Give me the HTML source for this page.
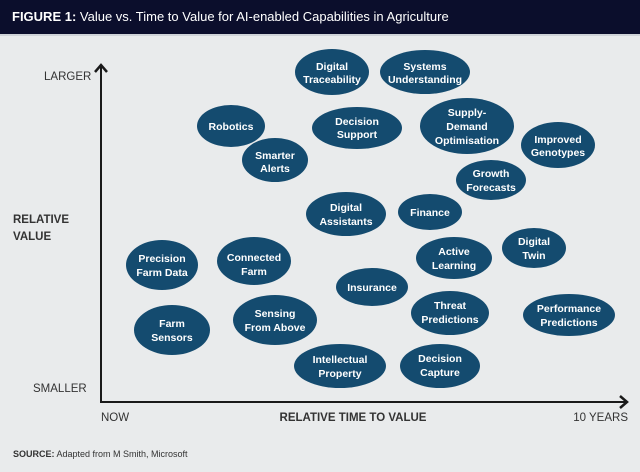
<!DOCTYPE html>
<html><head><meta charset="utf-8"><style>
body{margin:0;width:640px;height:472px;background:#e9ebec;overflow:hidden}
svg{display:block}
.e{fill:#144b6f}
.t{font-family:"Liberation Sans Narrow","Liberation Sans",sans-serif;font-weight:bold;font-size:10.5px;fill:#fff;text-anchor:middle}
.l{font-family:"Liberation Sans",sans-serif;font-size:11.5px;fill:#333}
</style></head><body>
<svg width="640" height="472" viewBox="0 0 640 472">
<rect width="640" height="472" fill="#e9ebec"/>
<rect width="640" height="34" fill="#0b0e2c"/>
<rect y="34" width="640" height="2" fill="#cfd3d8"/>
<text x="12" y="21" font-family="Liberation Sans,sans-serif" font-size="13" fill="#fff"><tspan font-weight="bold">FIGURE 1:</tspan> Value vs. Time to Value for AI-enabled Capabilities in Agriculture</text>
<g stroke="#1a1a1a" stroke-width="2" fill="none">
<line x1="101" y1="66" x2="101" y2="402"/>
<line x1="100" y1="402" x2="626" y2="402"/>
<polyline points="95,72 101,65 107,72" stroke-width="2.5"/>
<polyline points="620,396 627,402 620,408" stroke-width="2.5"/>
</g>
<text class="l" x="44" y="80">LARGER</text>
<text class="l" x="33" y="392">SMALLER</text>
<text class="l" x="13" y="223" font-weight="bold">RELATIVE</text>
<text class="l" x="13" y="240" font-weight="bold">VALUE</text>
<text class="l" x="101" y="421">NOW</text>
<text class="l" x="353" y="421" font-weight="bold" text-anchor="middle">RELATIVE TIME TO VALUE</text>
<text class="l" x="628" y="421" text-anchor="end">10 YEARS</text>
<text x="13" y="457" font-family="Liberation Sans,sans-serif" font-size="9" fill="#333"><tspan font-weight="bold">SOURCE:</tspan> Adapted from M Smith, Microsoft</text>
<g>
<ellipse class="e" cx="332" cy="72" rx="37" ry="23"/><text class="t" x="332" y="70">Digital</text><text class="t" x="332" y="83">Traceability</text>
<ellipse class="e" cx="425" cy="72" rx="45" ry="22"/><text class="t" x="425" y="70">Systems</text><text class="t" x="425" y="83">Understanding</text>
<ellipse class="e" cx="231" cy="126" rx="34" ry="21"/><text class="t" x="231" y="130">Robotics</text>
<ellipse class="e" cx="357" cy="128" rx="45" ry="21"/><text class="t" x="357" y="125">Decision</text><text class="t" x="357" y="138">Support</text>
<ellipse class="e" cx="467" cy="126" rx="47" ry="28"/><text class="t" x="467" y="116">Supply-</text><text class="t" x="467" y="130">Demand</text><text class="t" x="467" y="144">Optimisation</text>
<ellipse class="e" cx="558" cy="145" rx="37" ry="23"/><text class="t" x="558" y="143">Improved</text><text class="t" x="558" y="156">Genotypes</text>
<ellipse class="e" cx="275" cy="160" rx="33" ry="22"/><text class="t" x="275" y="159">Smarter</text><text class="t" x="275" y="172">Alerts</text>
<ellipse class="e" cx="491" cy="180" rx="35" ry="20"/><text class="t" x="491" y="177">Growth</text><text class="t" x="491" y="191">Forecasts</text>
<ellipse class="e" cx="346" cy="214" rx="40" ry="22"/><text class="t" x="346" y="211">Digital</text><text class="t" x="346" y="225">Assistants</text>
<ellipse class="e" cx="430" cy="212" rx="32" ry="18"/><text class="t" x="430" y="216">Finance</text>
<ellipse class="e" cx="534" cy="248" rx="32" ry="20"/><text class="t" x="534" y="245">Digital</text><text class="t" x="534" y="259">Twin</text>
<ellipse class="e" cx="454" cy="258" rx="38" ry="21"/><text class="t" x="454" y="255">Active</text><text class="t" x="454" y="269">Learning</text>
<ellipse class="e" cx="162" cy="265" rx="36" ry="25"/><text class="t" x="162" y="262">Precision</text><text class="t" x="162" y="276">Farm Data</text>
<ellipse class="e" cx="254" cy="261" rx="37" ry="24"/><text class="t" x="254" y="261">Connected</text><text class="t" x="254" y="275">Farm</text>
<ellipse class="e" cx="372" cy="287" rx="36" ry="19"/><text class="t" x="372" y="291">Insurance</text>
<ellipse class="e" cx="450" cy="313" rx="39" ry="22"/><text class="t" x="450" y="309">Threat</text><text class="t" x="450" y="323">Predictions</text>
<ellipse class="e" cx="569" cy="315" rx="46" ry="21"/><text class="t" x="569" y="312">Performance</text><text class="t" x="569" y="326">Predictions</text>
<ellipse class="e" cx="275" cy="320" rx="42" ry="25"/><text class="t" x="275" y="317">Sensing</text><text class="t" x="275" y="331">From Above</text>
<ellipse class="e" cx="172" cy="330" rx="38" ry="25"/><text class="t" x="172" y="327">Farm</text><text class="t" x="172" y="341">Sensors</text>
<ellipse class="e" cx="340" cy="366" rx="46" ry="22"/><text class="t" x="340" y="363">Intellectual</text><text class="t" x="340" y="377">Property</text>
<ellipse class="e" cx="440" cy="366" rx="40" ry="22"/><text class="t" x="440" y="362">Decision</text><text class="t" x="440" y="376">Capture</text>
</g>
</svg>
</body></html>
